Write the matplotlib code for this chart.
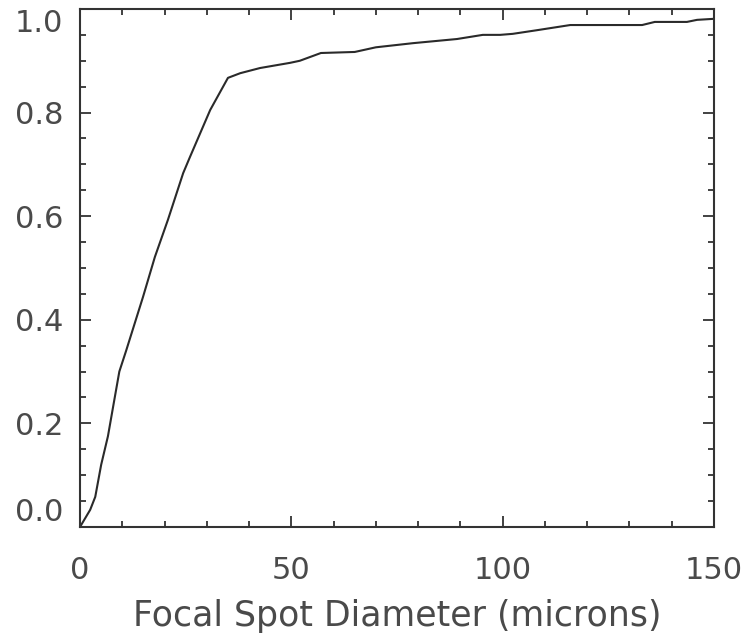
import matplotlib
matplotlib.use("Agg")
import matplotlib.pyplot as plt
from matplotlib.ticker import MultipleLocator

# cumulative fraction vs focal spot diameter
diameter = [0, 2.4, 3.6, 5.0, 6.6, 8.0, 9.3, 10.9, 14.9, 17.7, 20.8, 24.4,
            26.0, 30.8, 35.0, 37.9, 42.6, 49.7, 52.0, 57.0, 65.0, 70.0, 78.8,
            89.2, 95.3, 99.4, 102.4, 108.1, 116.0, 133.0, 136.0, 143.6, 146.0,
            150.0]
fraction = [0, 0.033, 0.058, 0.12, 0.175, 0.24, 0.30, 0.34, 0.444, 0.521,
            0.593, 0.683, 0.714, 0.805, 0.867, 0.876, 0.886, 0.896, 0.900,
            0.915, 0.917, 0.926, 0.934, 0.942, 0.950, 0.950, 0.952, 0.959,
            0.969, 0.969, 0.975, 0.975, 0.979, 0.981]

x_ticks = [0, 50, 100, 150]
y_ticks = [0.0, 0.2, 0.4, 0.6, 0.8, 1.0]
y_labels = ["0.0", "0.2", "0.4", "0.6", "0.8", "1.0"]

fig = plt.figure(figsize=(7.48, 6.41), dpi=100)
ax = fig.add_axes([0.107, 0.178, 0.8475, 0.808])

ax.plot(diameter, fraction, color="#2a2a2a", lw=1.5)

ax.set_xlim(0, 150)
ax.set_ylim(0, 1.0)
ax.set_xticks(x_ticks)
ax.set_yticks(y_ticks)
ax.set_yticklabels(y_labels)
ax.xaxis.set_minor_locator(MultipleLocator(10))
ax.yaxis.set_minor_locator(MultipleLocator(0.05))

txt = "#4a4a4a"
ax.tick_params(which="both", direction="in", top=True, right=True,
               color="#333333", width=1.3)
ax.tick_params(which="major", length=8)
ax.tick_params(which="minor", length=4)
ax.tick_params(axis="x", pad=21, labelsize=22, labelcolor=txt)
ax.tick_params(axis="y", pad=12, labelsize=22, labelcolor=txt)

for s in ax.spines.values():
    s.set_linewidth(1.5)
    s.set_color("#333333")

labels = ax.get_yticklabels()
labels[0].set_va("bottom")
labels[-1].set_va("top")

ax.set_xlabel("Focal Spot Diameter (microns)", fontsize=25, color=txt,
              labelpad=10)

fig.savefig("out.png", dpi=100)
